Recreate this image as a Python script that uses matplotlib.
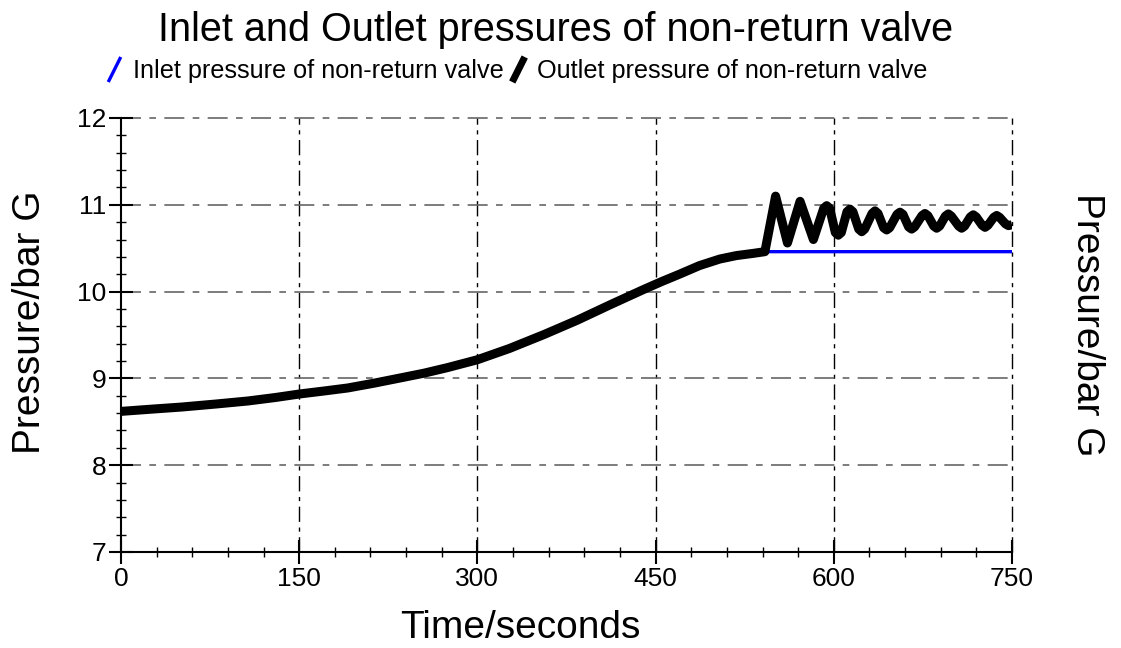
import matplotlib
matplotlib.use("Agg")
import matplotlib.pyplot as plt
from matplotlib.lines import Line2D
from matplotlib.ticker import MultipleLocator

# ---- data ----
time_rise = [0, 25, 51, 80, 107, 130, 150, 171, 191, 213, 235, 255, 275, 300,
             327, 356, 384, 412, 440, 455, 470, 487, 504, 518, 532, 542]
p_rise = [8.62, 8.645, 8.67, 8.705, 8.74, 8.78, 8.82, 8.855, 8.89, 8.945, 9.005, 9.06,
          9.125, 9.215, 9.345, 9.505, 9.67, 9.85, 10.025, 10.115, 10.20, 10.30,
          10.375, 10.415, 10.44, 10.46]

time_inlet_flat = [544, 750]
p_inlet_flat = [10.46, 10.46]

time_osc = [551, 561, 571.6, 582.8, 591.5, 594, 596.5, 601.3, 603.8, 606.3,
            611.1, 613.6, 616.1, 621, 623.5, 626, 632.2, 634.7, 637.2, 642, 644.5,
            647, 653.2, 655.7, 658.2, 663, 665.5, 668, 674.2, 676.7, 679.2, 684.1,
            686.6, 689.1, 693.9, 696.4, 698.9, 705.1, 707.6, 710.1, 714.9, 717.4,
            719.9, 724.8, 727.3, 729.8, 734.6, 737.1, 739.6, 744.5, 747, 750]
p_osc = [11.10, 10.56, 11.04, 10.60, 10.96, 10.99, 10.96, 10.68, 10.65, 10.68,
         10.92, 10.95, 10.92, 10.72, 10.69, 10.72, 10.90, 10.93, 10.90, 10.735, 10.71,
         10.735, 10.89, 10.915, 10.89, 10.745, 10.72, 10.745, 10.875, 10.90, 10.875,
         10.755, 10.73, 10.755, 10.87, 10.895, 10.87, 10.755, 10.73, 10.755, 10.86,
         10.885, 10.86, 10.765, 10.74, 10.765, 10.855, 10.877, 10.855, 10.78, 10.76,
         10.77]

x_ticks = [0, 150, 300, 450, 600, 750]
y_ticks = [7, 8, 9, 10, 11, 12]

title = "Inlet and Outlet pressures of non-return valve"
inlet_label = "Inlet pressure of non-return valve"
outlet_label = "Outlet pressure of non-return valve"
y_label = "Pressure/bar G"
x_label = "Time/seconds"

plt.rcParams['font.family'] = ['Liberation Sans', 'DejaVu Sans']

fig = plt.figure(figsize=(11.21, 6.48), dpi=100)
ax = fig.add_axes([121/1121, 1 - 552/648, (1012-121)/1121, (552-118)/648])

inlet_t = time_rise + time_inlet_flat
inlet_p = p_rise + p_inlet_flat
outlet_t = time_rise + time_osc
outlet_p = p_rise + p_osc

ax.plot(inlet_t, inlet_p, color='#0000ff', lw=2.4, zorder=3, solid_capstyle='butt')
ax.plot(outlet_t, outlet_p, color='black', lw=6.5, zorder=4,
        solid_joinstyle='round', solid_capstyle='butt')

ax.set_xlim(0, 750)
ax.set_ylim(7, 12)
ax.set_xticks(x_ticks)
ax.set_yticks(y_ticks)
ax.xaxis.set_minor_locator(MultipleLocator(30))
ax.yaxis.set_minor_locator(MultipleLocator(0.2))
ax.tick_params(which='major', direction='inout', length=17, width=1.5,
               labelsize=19, pad=2)
ax.tick_params(which='minor', direction='inout', length=7, width=1.0)

for s in ['top', 'right']:
    ax.spines[s].set_visible(False)
for s in ['left', 'bottom']:
    ax.spines[s].set_linewidth(1.5)

# grid
for x in x_ticks[1:]:
    ax.axvline(x, color='black', lw=1.0, dashes=(11, 4, 3, 4), zorder=1,
               clip_on=False)
for y in y_ticks[1:]:
    ax.axhline(y, color='#666666', lw=1.2, dashes=(12, 5, 4, 5), zorder=1,
               clip_on=False)

fig.text(520/1121, 1 - 628/648, x_label, fontsize=28, ha='center', va='center')
fig.text(30/1121, 1 - 322/648, y_label, fontsize=28, rotation=90,
         ha='center', va='center')
fig.text(1087/1121, 1 - 325/648, y_label, fontsize=28, rotation=270,
         ha='center', va='center')

fig.text(556/1121, 1 - 30/648, title, fontsize=28.5, ha='center', va='center')

h1 = Line2D([], [], color='#0000ff', lw=0, marker=[(-0.5, -1), (0.5, 1)],
            markersize=18, markeredgewidth=2.4, markeredgecolor='#0000ff')
h2 = Line2D([], [], color='black', lw=0, marker=[(-0.5, -1), (0.5, 1)],
            markersize=18, markeredgewidth=5, markeredgecolor='black')
fig.legend([h1, h2], [inlet_label, outlet_label], loc='center',
           bbox_to_anchor=(516/1121, 1 - 71/648), ncol=2, frameon=False,
           fontsize=18.2, handlelength=0.7, handletextpad=0.4, columnspacing=0.2,
           borderaxespad=0, borderpad=0)

fig.savefig('out.png', dpi=100)
